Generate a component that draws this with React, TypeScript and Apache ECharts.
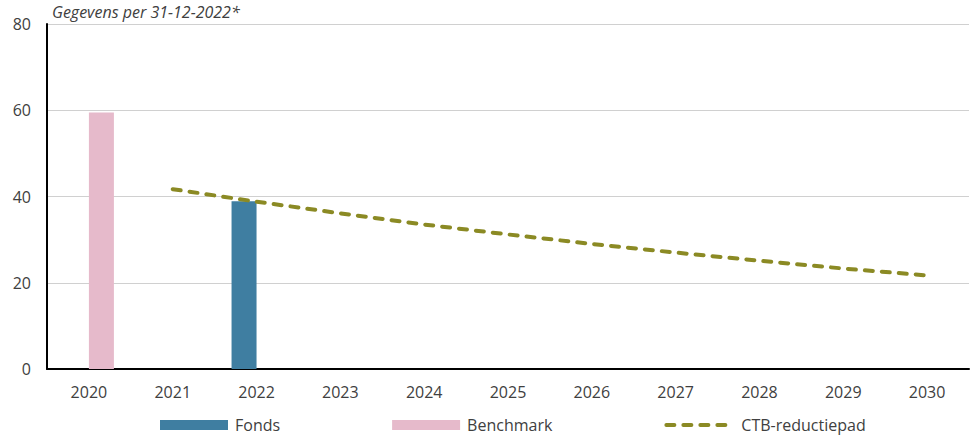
import React, { useEffect, useRef } from "react";
import * as echarts from "echarts";

const categories = ["2020", "2021", "2022", "2023", "2024", "2025", "2026", "2027", "2028", "2029", "2030"];
const fondsValues = [null, null, 38.9, null, null, null, null, null, null, null, null];
const benchmarkValues = [59.5, null, null, null, null, null, null, null, null, null, null];
const ctbValues = [null, 41.7, 38.8, 36.1, 33.5, 31.2, 29.0, 27.0, 25.1, 23.3, 21.7];
const yTicks = [0, 20, 40, 60, 80];

const FONT = "'Open Sans', sans-serif";
const TEXT = "#404040";
const OLIVE = "#8B8A24";

export default function App() {
  const ref = useRef<HTMLDivElement>(null);
  useEffect(() => {
    if (!ref.current) return;
    const chart = echarts.init(ref.current, null, { renderer: "svg" });
    chart.setOption({
      animation: false,
      textStyle: { fontFamily: FONT },
      title: {
        text: "Gegevens per 31-12-2022*",
        left: 52,
        top: 3,
        padding: 0,
        textStyle: { fontFamily: FONT, fontSize: 16, fontStyle: "italic", fontWeight: "normal", color: TEXT, lineHeight: 18 },
      },
      grid: { left: 47, right: 4, top: 24, bottom: 68, containLabel: false },
      legend: {
        left: 155,
        top: 416,
        padding: [0, 5, 0, 5],
        itemGap: 112,
        itemWidth: 68,
        itemHeight: 10,
        textStyle: { fontFamily: FONT, fontSize: 16, color: TEXT, padding: [0, 0, 0, 2], lineHeight: 18 },
        data: [
          { name: "Fonds", icon: "rect" },
          { name: "Benchmark", icon: "rect" },
          {
            name: "CTB-reductiepad",
            itemStyle: { color: "transparent", borderWidth: 0, opacity: 0 },
            lineStyle: { color: OLIVE, width: 4, type: [8, 9], cap: "round" },
          },
        ],
      },
      xAxis: {
        type: "category",
        data: categories,
        axisLine: { show: true, lineStyle: { color: "#000", width: 2 } },
        axisTick: { show: false },
        axisLabel: { fontFamily: FONT, fontSize: 16, color: TEXT, margin: 15 },
      },
      yAxis: {
        type: "value",
        min: yTicks[0],
        max: yTicks[yTicks.length - 1],
        interval: 20,
        axisLine: { show: true, lineStyle: { color: "#000", width: 2 } },
        axisTick: { show: false },
        axisLabel: { fontFamily: FONT, fontSize: 16, color: TEXT, margin: 16 },
        splitLine: { show: true, lineStyle: { color: "#D0D0D0", width: 1 } },
      },
      series: [
        {
          name: "Fonds",
          type: "bar",
          data: fondsValues,
          barWidth: 25,
          barGap: "0%",
          itemStyle: { color: "#3F7EA1" },
        },
        {
          name: "Benchmark",
          type: "bar",
          data: benchmarkValues,
          barWidth: 25,
          barGap: "0%",
          itemStyle: { color: "#E6BACB" },
        },
        {
          name: "CTB-reductiepad",
          type: "line",
          data: ctbValues,
          symbol: "none",
          connectNulls: false,
          itemStyle: { color: OLIVE },
          lineStyle: { color: OLIVE, width: 4, type: [8, 9], cap: "round" },
        },
      ],
    });
    return () => chart.dispose();
  }, []);
  return <div ref={ref} style={{ position: "absolute", left: 0, top: 0, width: 973, height: 437 }} />;
}
